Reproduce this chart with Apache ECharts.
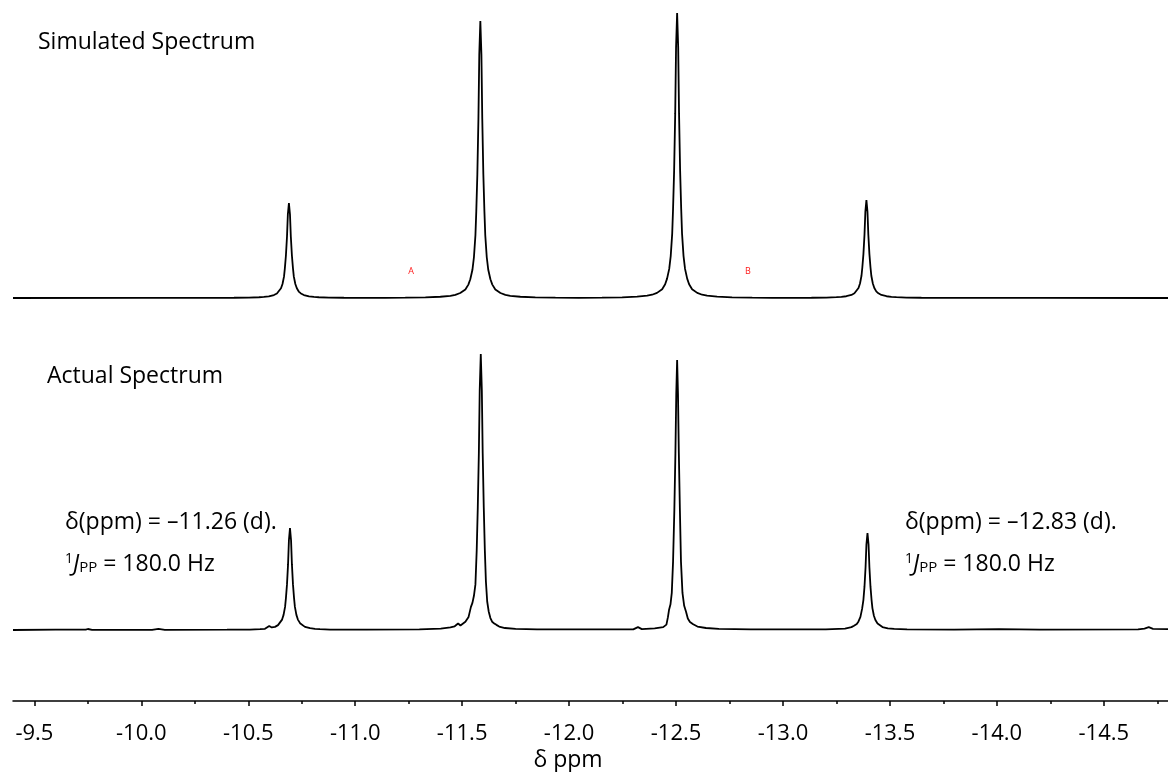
<!DOCTYPE html>
<html><head><meta charset="utf-8">
<script src="https://cdn.jsdelivr.net/npm/echarts@6/dist/echarts.min.js"></script>
<style>html,body{margin:0;padding:0;background:#fff}#c{width:1168px;height:772px}</style>
</head><body><div id="c"></div>
<script>
// ---- data (δ ppm, intensity) ----
const simPpm = [-9.4,-10.0,
 -10.339,-10.433,-10.503,-10.550,-10.573,-10.596,-10.620,-10.634,-10.643,-10.653,-10.660,-10.667,-10.671,-10.676,-10.681,-10.685,-10.690,
 -10.695,-10.699,-10.704,-10.709,-10.713,-10.720,-10.727,-10.736,-10.746,-10.760,-10.784,-10.807,-10.830,-10.877,-10.947,-11.041,
 -11.14,
 -11.234,-11.328,-11.398,-11.445,-11.468,-11.491,-11.515,-11.529,-11.538,-11.548,-11.555,-11.562,-11.566,-11.571,-11.576,-11.580,-11.585,
 -11.590,-11.594,-11.599,-11.604,-11.608,-11.615,-11.622,-11.632,-11.641,-11.655,-11.679,-11.702,-11.725,-11.772,-11.842,-11.936,
 -12.045,
 -12.154,-12.248,-12.318,-12.365,-12.388,-12.411,-12.435,-12.449,-12.458,-12.468,-12.475,-12.482,-12.486,-12.491,-12.496,-12.500,-12.505,
 -12.510,-12.514,-12.519,-12.524,-12.528,-12.535,-12.542,-12.552,-12.561,-12.575,-12.599,-12.622,-12.645,-12.692,-12.762,-12.856,
 -12.95,
 -13.039,-13.133,-13.203,-13.250,-13.273,-13.296,-13.320,-13.334,-13.343,-13.353,-13.360,-13.367,-13.371,-13.376,-13.381,-13.385,-13.390,
 -13.395,-13.399,-13.404,-13.409,-13.413,-13.420,-13.427,-13.436,-13.446,-13.460,-13.484,-13.507,-13.530,-13.577,-13.647,-13.741,
 -14.2,-14.8];
const simInt = [0,0.02,
 0.04,0.08,0.15,0.27,0.38,0.6,1.03,1.6,2.26,3.4,4.9,7.5,10.4,14.9,21.5,29.3,33.3,
 29.3,21.5,14.9,10.4,7.5,4.9,3.4,2.26,1.6,1.03,0.6,0.38,0.27,0.15,0.08,0.04,
 0.06,
 0.13,0.23,0.44,0.78,1.12,1.75,3.0,4.7,6.6,9.9,14.3,22.0,30.4,43.4,62.8,85.4,97.2,
 85.4,62.8,43.4,30.4,22.0,14.3,9.9,6.6,4.7,3.0,1.75,1.12,0.78,0.44,0.23,0.13,
 0.07,
 0.13,0.24,0.45,0.8,1.15,1.8,3.1,4.8,6.8,10.2,14.7,22.6,31.3,44.7,64.6,87.9,100,
 87.9,64.6,44.7,31.3,22.6,14.7,10.2,6.8,4.8,3.1,1.8,1.15,0.8,0.45,0.24,0.13,
 0.06,
 0.04,0.08,0.15,0.28,0.4,0.62,1.07,1.65,2.34,3.5,5.1,7.8,10.8,15.4,22.2,30.2,34.4,
 30.2,22.2,15.4,10.8,7.8,5.1,3.5,2.34,1.65,1.07,0.62,0.4,0.28,0.15,0.08,0.04,
 0.02,0];

const actPpm = [-9.4,-9.6,-9.74,-9.75,-9.77,-10.05,-10.08,-10.11,-10.40,
 -10.508,-10.555,-10.578,-10.598,-10.610,-10.625,-10.639,-10.648,-10.658,-10.665,-10.672,-10.676,-10.681,-10.686,-10.690,-10.695,
 -10.700,-10.704,-10.709,-10.714,-10.718,-10.725,-10.732,-10.742,-10.751,-10.765,-10.789,-10.812,-10.835,-10.882,-10.95,-11.05,
 -11.3,
 -11.40,-11.445,-11.465,-11.481,-11.492,-11.500,-11.515,-11.530,-11.541,-11.548,-11.555,-11.562,-11.568,-11.573,-11.578,-11.582,-11.587,
 -11.592,-11.596,-11.601,-11.606,-11.611,-11.617,-11.624,-11.632,-11.640,-11.650,-11.660,-11.673,-11.70,-11.75,-11.85,
 -12.30,-12.322,-12.34,
 -12.40,-12.44,-12.455,-12.462,-12.467,-12.474,-12.480,-12.486,-12.492,-12.497,-12.501,-12.505,
 -12.509,-12.513,-12.518,-12.523,-12.530,-12.538,-12.547,-12.555,-12.565,-12.580,-12.60,-12.64,-12.70,-12.85,
 -13.2,-13.29,-13.32,-13.332,-13.345,-13.353,-13.362,-13.370,-13.376,-13.381,-13.386,-13.390,-13.395,
 -13.400,-13.404,-13.409,-13.414,-13.418,-13.425,-13.432,-13.442,-13.451,-13.465,-13.49,-13.52,-13.58,
 -13.8,-14.01,-14.2,-14.66,-14.69,-14.71,-14.73,-14.8];
const actInt = [0,0.1,0.1,0.35,0.05,0.05,0.4,0.05,0.1,
 0.16,0.29,0.41,1.4,0.9,1.1,1.7,2.4,3.65,5.3,8.1,11.2,16.0,23.1,31.5,35.8,
 31.5,23.1,16.0,11.2,8.1,5.3,3.65,2.4,1.7,1.1,0.64,0.41,0.29,0.16,0.1,0.1,
 0.2,
 0.5,0.9,1.3,2.3,1.6,1.7,2.9,4.6,8.1,9.5,12,16,28,43,62,84,96.8,
 84,62,43,28,17,10,6.5,4.2,2.9,2.3,1.8,1.2,0.7,0.4,0.2,
 0.2,1.0,0.3,
 0.6,1.0,1.9,4.5,7.0,9.0,13,24,42,62,83,94.7,
 83,62,42,24,13,8.5,6.3,4.0,2.8,2.0,1.2,0.7,0.4,0.2,
 0.2,0.5,1.0,1.5,2.1,3.0,4.6,7.5,10.6,15.2,22,30,34,
 30,22,15.2,10.6,7.7,5.0,3.5,2.3,1.6,1.05,0.6,0.4,0.2,
 0.1,0.3,0.1,0.2,0.5,1.0,0.4,0.3];

const majorTicks = [-9.5,-10.0,-10.5,-11.0,-11.5,-12.0,-12.5,-13.0,-13.5,-14.0,-14.5];
const minorTicks = [-9.75,-10.25,-10.75,-11.25,-11.75,-12.25,-12.75,-13.25,-13.75,-14.25,-14.75];

const FONT = '"Open Sans", sans-serif';
const zip = (a, b) => a.map((v, i) => [v, b[i]]);

const chart = echarts.init(document.getElementById('c'), null, {renderer: 'canvas'});
const xBase = {type: 'value', min: -14.8, max: -9.4, inverse: true, splitLine: {show: false}};
const jRich = {
  sup: {fontSize: 14, fontFamily: FONT, verticalAlign: 'top', fill: '#000'},
  it: {fontSize: 23, fontFamily: FONT, fontStyle: 'italic', fill: '#000'},
  sub: {fontSize: 15, fontFamily: FONT, verticalAlign: 'bottom', fill: '#000'},
  n: {fontSize: 23, fontFamily: FONT, fill: '#000'}
};
chart.setOption({
  animation: false,
  backgroundColor: '#fff',
  grid: [
    {left: 13, width: 1156, top: 13, height: 299.25},
    {left: 13, width: 1156, top: 345, height: 356}
  ],
  xAxis: [
    Object.assign({}, xBase, {gridIndex: 0, show: false}),
    Object.assign({}, xBase, {gridIndex: 1, position: 'bottom',
      axisLine: {show: true, onZero: false, lineStyle: {color: '#000', width: 1.5}},
      axisTick: {show: true, customValues: majorTicks, length: 5, lineStyle: {color: '#000', width: 1.5}},
      axisLabel: {show: true, customValues: majorTicks, formatter: v => v.toFixed(1), fontSize: 22, color: '#000', fontFamily: FONT, margin: 22}
    }),
    Object.assign({}, xBase, {gridIndex: 1, position: 'bottom',
      axisLine: {show: false, onZero: false},
      axisTick: {show: true, customValues: minorTicks, length: 3, lineStyle: {color: '#000', width: 1.5}},
      axisLabel: {show: false}
    })
  ],
  yAxis: [
    {type: 'value', gridIndex: 0, min: -5, max: 100, show: false},
    {type: 'value', gridIndex: 1, min: -24.912, max: 100, show: false}
  ],
  series: [
    {type: 'line', xAxisIndex: 0, yAxisIndex: 0, data: zip(simPpm, simInt), showSymbol: false, symbol: 'none', clip: false,
     lineStyle: {color: '#000', width: 1.8}},
    {type: 'line', xAxisIndex: 1, yAxisIndex: 1, data: zip(actPpm, actInt), showSymbol: false, symbol: 'none', clip: false,
     lineStyle: {color: '#000', width: 1.8}}
  ],
  graphic: [
    {type: 'text', x: 38, y: 42, style: {text: 'Simulated Spectrum', fill: '#000', font: '23px ' + FONT, verticalAlign: 'middle'}},
    {type: 'text', x: 47, y: 376, style: {text: 'Actual Spectrum', fill: '#000', font: '23px ' + FONT, verticalAlign: 'middle'}},
    {type: 'text', x: 65, y: 522, style: {text: 'δ(ppm) = –11.26 (d).', fill: '#000', font: '23px ' + FONT, verticalAlign: 'middle'}},
    {type: 'text', x: 905, y: 522, style: {text: 'δ(ppm) = –12.83 (d).', fill: '#000', font: '23px ' + FONT, verticalAlign: 'middle'}},
    {type: 'text', x: 65, y: 564, style: {text: '{sup|1}{it|J}{sub|PP}{n| = 180.0 Hz}', fill: '#000', font: '23px ' + FONT, verticalAlign: 'middle', rich: jRich}},
    {type: 'text', x: 905, y: 564, style: {text: '{sup|1}{it|J}{sub|PP}{n| = 180.0 Hz}', fill: '#000', font: '23px ' + FONT, verticalAlign: 'middle', rich: jRich}},
    {type: 'text', x: 411, y: 271, style: {text: 'A', fill: '#ff1a1a', font: '9px ' + FONT, align: 'center', verticalAlign: 'middle'}},
    {type: 'text', x: 748, y: 271, style: {text: 'B', fill: '#ff1a1a', font: '9px ' + FONT, align: 'center', verticalAlign: 'middle'}},
    {type: 'text', x: 568, y: 760, style: {text: 'δ ppm', fill: '#000', font: '23px ' + FONT, align: 'center', verticalAlign: 'middle'}}
  ]
});
</script></body></html>
